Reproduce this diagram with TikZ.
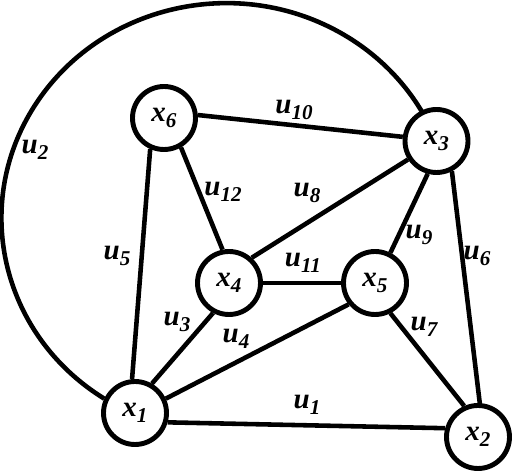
\documentclass[tikz,border=0pt]{standalone}
\usepackage{fontspec}
\setmainfont{Liberation Serif}
\newfontfamily\lblfont{Liberation Serif Bold Italic}
\newcommand{\lsub}[1]{\raisebox{-0.45ex}{\fontsize{12}{12}\selectfont #1}}

\begin{document}
\begin{tikzpicture}[
  vert/.style={circle,draw,line width=2.8pt,minimum size=1.26cm,inner sep=0pt,
    fill=white,font=\fontsize{16.5}{18}\lblfont},
  lab/.style={inner sep=0pt,font=\fontsize{16.5}{18}\lblfont},
  ed/.style={line width=2.6pt}]
\useasboundingbox (0,0) rectangle (10.24,9.5);
% vertices
\node[vert] (x1) at (2.70,1.24) {x\lsub{1}};
\node[vert] (x2) at (9.56,0.76) {x\lsub{2}};
\node[vert] (x3) at (8.73,6.68) {x\lsub{3}};
\node[vert] (x4) at (4.58,3.84) {x\lsub{4}};
\node[vert] (x5) at (7.50,3.84) {x\lsub{5}};
\node[vert] (x6) at (3.28,7.14) {x\lsub{6}};
% edges
\draw[ed] (x1.-16)--(x2.165);
\draw[ed] (x1.155) arc[start angle=237.1,end angle=29.5,x radius=4.5cm,y radius=4.3cm];
\draw[ed] (x1.60)--(x4.242);
\draw[ed] (x1.25)--(x5.219);
\draw[ed] (x1.95)--(x6.246);
\draw[ed] (x3.297)--(x2.87);
\draw[ed] (x5.297)--(x2.114);
\draw[ed] (x4.48)--(x3.213);
\draw[ed] (x3.255)--(x5.63);
\draw[ed] (x6.5)--(x3.173);
\draw[ed] (x4)--(x5);
\draw[ed] (x6.-60)--(x4.101);
% edge labels
\node[lab] (u1) at (6.14,1.40) {u\lsub{1}};
\node[lab] (u2) at (0.70,6.50) {u\lsub{2}};
\node[lab] (u3) at (3.54,3.06) {u\lsub{3}};
\node[lab] (u4) at (4.72,2.72) {u\lsub{4}};
\node[lab] (u5) at (2.34,4.38) {u\lsub{5}};
\node[lab] (u6) at (9.54,4.38) {u\lsub{6}};
\node[lab] (u7) at (8.48,2.96) {u\lsub{7}};
\node[lab] (u8) at (6.14,5.64) {u\lsub{8}};
\node[lab] (u9) at (8.38,4.80) {u\lsub{9}};
\node[lab] (u10) at (5.88,7.30) {u\lsub{10}};
\node[lab] (u11) at (6.06,4.24) {u\lsub{11}};
\node[lab] (u12) at (4.46,5.66) {u\lsub{12}};
\end{tikzpicture}
\end{document}
